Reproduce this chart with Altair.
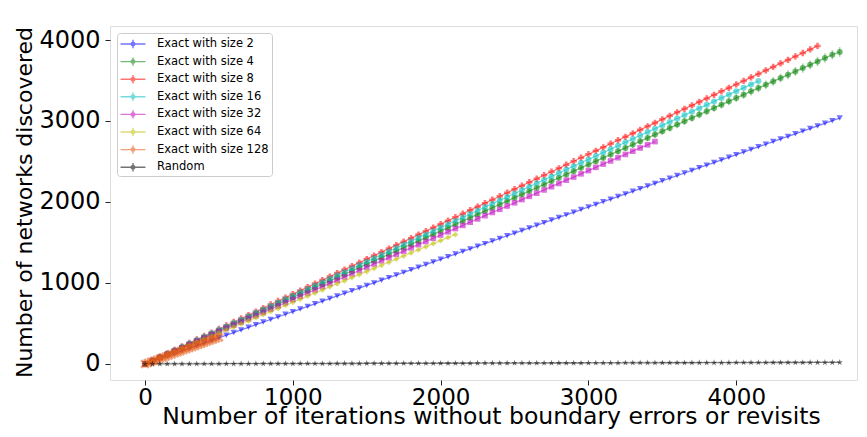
import altair as alt
import pandas as pd

series_names = ["Exact with size 2", "Exact with size 4", "Exact with size 8",
                "Exact with size 16", "Exact with size 32", "Exact with size 64",
                "Exact with size 128", "Random"]
series_colors = ["#0000ff", "#008000", "#ff0000", "#00bfbf", "#bf00bf", "#bfbf00", "#e6550d", "#000000"]

STEP = 50
STEP_128 = 20

y_size2 = [0,32,65,97,129,162,194,226,258,291,323,355,388,420,452,485,517,549,581,614,646,678,711,743,775,808,840,872,904,937,969,1001,1034,1066,1098,1131,1163,1195,1227,1260,1292,1324,1357,1389,1421,1454,1486,1518,1550,1583,1615,1647,1680,1712,1744,1777,1809,1841,1873,1906,1938,1970,2003,2035,2067,2100,2132,2164,2196,2229,2261,2293,2326,2358,2390,2423,2455,2487,2519,2552,2584,2616,2649,2681,2713,2746,2778,2810,2842,2875,2907,2939,2972,3004,3036]
y_size4 = [0,41,82,123,164,205,246,287,328,369,410,452,493,534,575,616,657,698,739,780,821,862,903,944,985,1026,1067,1108,1149,1190,1232,1273,1314,1355,1396,1437,1478,1519,1560,1601,1642,1683,1724,1765,1806,1847,1888,1929,1970,2011,2053,2094,2135,2176,2217,2258,2299,2340,2381,2422,2463,2504,2545,2586,2627,2668,2709,2750,2791,2832,2873,2915,2956,2997,3038,3079,3120,3161,3202,3243,3284,3325,3366,3407,3448,3489,3530,3571,3612,3653,3694,3736,3777,3818,3852]
err_size4 = [0,1,1,2,3,3,4,5,5,6,6,7,8,8,9,10,10,11,11,12,13,13,14,15,15,16,16,17,18,18,19,20,20,21,21,22,23,23,24,25,25,26,26,27,28,28,29,30,30,31,31,32,33,33,34,35,35,36,36,37,38,38,39,40,40,41,41,42,43,43,44,45,45,46,46,47,48,48,49,50,50,51,51,52,53,53,54,55,55,56,56,57,58,58,60]
y_size8 = [0,43,86,129,173,216,259,302,345,388,432,475,518,561,604,647,690,734,777,820,863,906,949,993,1036,1079,1122,1165,1208,1251,1295,1338,1381,1424,1467,1510,1553,1597,1640,1683,1726,1769,1812,1855,1899,1942,1985,2028,2071,2114,2158,2201,2244,2287,2330,2373,2416,2460,2503,2546,2589,2632,2675,2719,2762,2805,2848,2891,2934,2977,3021,3064,3107,3150,3193,3236,3279,3323,3366,3409,3452,3495,3538,3581,3625,3668,3711,3754,3797,3840,3884,3927]
y_size16 = [0,42,84,126,168,211,253,295,337,379,421,463,505,547,589,632,674,716,758,800,842,884,926,968,1010,1053,1095,1137,1179,1221,1263,1305,1347,1389,1431,1474,1516,1558,1600,1642,1684,1726,1768,1810,1852,1895,1937,1979,2021,2063,2105,2147,2189,2231,2273,2316,2358,2400,2442,2484,2526,2568,2610,2652,2694,2737,2779,2821,2863,2905,2947,2989,3031,3073,3115,3158,3200,3242,3284,3326,3368,3410,3452,3494]
y_size32 = [0,40,80,119,159,199,239,279,318,358,398,438,478,517,557,597,637,677,716,756,796,836,876,915,955,995,1035,1075,1114,1154,1194,1234,1274,1313,1353,1393,1433,1473,1512,1552,1592,1632,1672,1711,1751,1791,1831,1871,1910,1950,1990,2030,2070,2109,2149,2189,2229,2269,2308,2348,2388,2428,2468,2507,2547,2587,2627,2667,2706,2746]
y_size64 = [0,38,76,114,152,191,229,267,305,343,381,419,457,495,533,572,610,648,686,724,762,800,838,876,914,953,991,1029,1067,1105,1143,1181,1219,1257,1295,1334,1372,1410,1448,1486,1524,1562,1600]
y_size128 = [0,13,26,39,52,66,79,92,105,118,131,144,157,171,184,197,210,223,236,249,262,276,289,302,315,328]
y_random = [0,0,1,1,1,1,1,2,2,2,2,3,3,3,3,3,4,4,4,4,4,5,5,5,5,5,6,6,6,6,7,7,7,7,7,8,8,8,8,8,9,9,9,9,9,10,10,10,10,10,11,11,11,11,11,12,12,12,12,12,13,13,13,13,13,14,14,14,14,14,15,15,15,15,15,16,16,16,16,16,17,17,17,17,17,18,18,18,18,18,19,19,19,19,20]

x_ticks = [0, 1000, 2000, 3000, 4000]
y_ticks = [0, 1000, 2000, 3000, 4000]

all_y = [y_size2, y_size4, y_size8, y_size16, y_size32, y_size64, y_size128, y_random]
steps = [STEP, STEP, STEP, STEP, STEP, STEP, STEP_128, STEP]

rows = []
for k, (name, ys, st) in enumerate(zip(series_names, all_y, steps)):
    for i, v in enumerate(ys):
        e = err_size4[i] if name == "Exact with size 4" else 0
        rows.append({"series": name, "k": k, "x": i * st, "y": v, "lo": v - e, "hi": v + e, "err": e})
df = pd.DataFrame(rows)

star = "M0,-1L0.2245,-0.309L0.951,-0.309L0.363,0.118L0.588,0.809L0,0.382L-0.588,0.809L-0.363,0.118L-0.951,-0.309L-0.2245,-0.309Z"
xmark = "M-1,-0.6L-0.6,-1L0,-0.4L0.6,-1L1,-0.6L0.4,0L1,0.6L0.6,1L0,0.4L-0.6,1L-1,0.6L-0.4,0Z"
shapes = ["triangle-down", "circle", "cross", "circle", "square", "diamond", xmark, star]
sizes = [40, 36, 40, 36, 32, 36, 90, 45]
legend_sym = ("M-1.78,-0.1L1.78,-0.1L1.78,0.1L-1.78,0.1Z "
              "M-0.1,-0.6L0.1,-0.6L0.1,0.6L-0.1,0.6Z "
              "M0.36,0A0.36,0.36 0 1,1 -0.36,0A0.36,0.36 0 1,1 0.36,0Z")

xscale = alt.Scale(domain=[-237, 4817], nice=False, zero=False)
yscale = alt.Scale(domain=[-198, 4173], nice=False, zero=False)
cscale = alt.Scale(domain=series_names, range=series_colors)

xaxis = alt.Axis(values=x_ticks, format="d", title="Number of iterations without boundary errors or revisits",
                 grid=False, domain=False, tickColor="#222", tickSize=5, labelFont="DejaVu Sans",
                 labelFontSize=23, labelPadding=1, labelColor="#000", titleFont="DejaVu Sans",
                 titleFontSize=23.5, titleFontWeight="normal", titleColor="#000",
                 titleBaseline="alphabetic", titleX=381, titleY=43, titleAlign="center")
yaxis = alt.Axis(values=y_ticks, format="d", title="Number of networks discovered",
                 grid=False, domain=False, tickColor="#222", tickSize=5, labelFont="DejaVu Sans",
                 labelFontSize=24, labelPadding=5, labelColor="#000", titleFont="DejaVu Sans",
                 titleFontSize=22, titleFontWeight="normal", titleColor="#000",
                 titleBaseline="alphabetic", titleAngle=-90, titleX=-79, titleY=176, titleAlign="center")

legend = alt.Legend(title=None, orient="none", legendX=7, legendY=7, symbolType=legend_sym,
                    symbolSize=196, symbolOpacity=0.55, symbolOffset=5, labelOffset=16,
                    labelFont="DejaVu Sans", labelFontSize=11.5, labelColor="#000",
                    rowPadding=3.6, padding=3,
                    strokeColor="#cccccc", fillColor="#ffffff", cornerRadius=3)

base = alt.Chart(df)
X = alt.X("x:Q", scale=xscale, axis=xaxis)
Y = alt.Y("y:Q", scale=yscale, axis=yaxis)

layers = []
for name, col in zip(series_names, series_colors):
    layers.append(
        base.transform_filter(alt.datum.series == name)
        .mark_line(strokeWidth=1.3, opacity=0.5, color=col)
        .encode(x=X, y=Y, order="x:Q")
    )

layers.append(
    base.transform_filter("datum.err > 0")
    .mark_rule(strokeWidth=1.5, opacity=0.35, color="#008000")
    .encode(x=X, y=alt.Y("lo:Q", scale=yscale, axis=yaxis), y2="hi:Q")
)

for name, col, shp, sz in zip(series_names, series_colors, shapes, sizes):
    layers.append(
        base.transform_filter(alt.datum.series == name)
        .mark_point(filled=True, opacity=0.55, size=sz, color=col, shape=shp)
        .encode(x=X, y=Y)
    )

legend_layer = base.transform_filter("datum.x == 0").mark_point(filled=True, opacity=0).encode(
    x=X, y=Y,
    color=alt.Color("series:N", scale=cscale, legend=legend, sort=series_names),
)
layers.append(legend_layer)

chart = alt.layer(*layers).properties(
    width=747, height=354,
    autosize=alt.AutoSizeParams(type="none"),
    padding={"left": 102, "top": 18, "right": 2, "bottom": 49},
).configure_view(stroke="#222", strokeWidth=1).configure(font="DejaVu Sans")

chart.save("out.html", embed_options={"renderer": "svg", "actions": False})
